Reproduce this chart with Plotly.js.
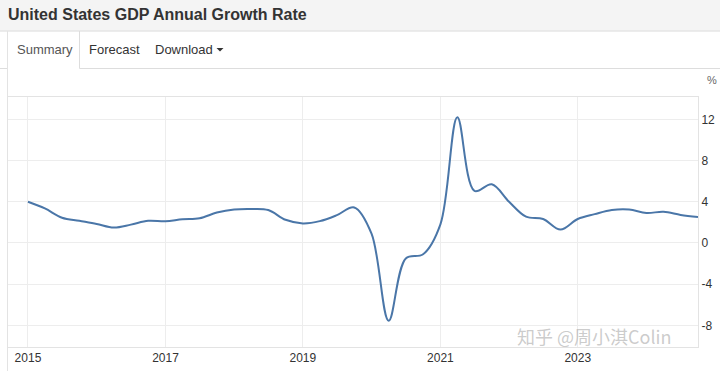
<!DOCTYPE html>
<html>
<head>
<meta charset="utf-8">
<script src="https://cdn.plot.ly/plotly-3.0.1.min.js"></script>
<style>html,body{margin:0;padding:0;background:#fff;}#chart{width:720px;height:371px;}</style>
</head>
<body>
<div id="chart"></div>
<script>
// Quarterly dates (quarter start) and US GDP annual growth rate (%)
const quarters = [
  '2015-01-01','2015-04-01','2015-07-01','2015-10-01',
  '2016-01-01','2016-04-01','2016-07-01','2016-10-01',
  '2017-01-01','2017-04-01','2017-07-01','2017-10-01',
  '2018-01-01','2018-04-01','2018-07-01','2018-10-01',
  '2019-01-01','2019-04-01','2019-07-01','2019-10-01',
  '2020-01-01','2020-04-01','2020-07-01','2020-10-01',
  '2021-01-01','2021-04-01','2021-07-01','2021-10-01',
  '2022-01-01','2022-04-01','2022-07-01','2022-10-01',
  '2023-01-01','2023-04-01','2023-07-01','2023-10-01',
  '2024-01-01','2024-04-01','2024-07-01','2024-10-01'
];
const growth = [
  4.0, 3.35, 2.45, 2.15,
  1.85, 1.5, 1.78, 2.15,
  2.1, 2.3, 2.4, 2.95,
  3.25, 3.3, 3.2, 2.25,
  1.9, 2.12, 2.7, 3.45,
  0.9, -7.55, -1.5, -1.1,
  1.8, 12.2, 5.05, 5.7,
  4.0, 2.55, 2.33, 1.3,
  2.33, 2.8, 3.2, 3.25,
  2.92, 3.02, 2.72, 2.52
];
const yTicks = [-8, -4, 0, 4, 8, 12];
const xTickLabels = ['2015', '2017', '2019', '2021', '2023'];
const xTickVals = ['2015-01-01', '2017-01-01', '2019-01-01', '2021-01-01', '2023-01-01'];
const pageTitle = 'United States GDP Annual Growth Rate';
const tabs = ['Summary', 'Forecast', 'Download'];
const unitLabel = '%';
const watermark = '知乎 @周小淇Colin';

// pixel -> paper helpers
const L = 8, R = 698, T = 97, B = 347;
const px = x => (x - L) / (R - L);
const py = y => (B - y) / (B - T);

const font = 'Arial, "Liberation Sans", Helvetica, sans-serif';

const shapes = [
  {type:'rect', xref:'paper', yref:'paper', x0:px(0), x1:px(720), y0:py(0), y1:py(30.5), fillcolor:'#f4f4f4', line:{width:0}, layer:'below'},
  {type:'line', xref:'paper', yref:'paper', x0:px(0), x1:px(720), y0:py(31), y1:py(31), line:{color:'#d9d9d9', width:1}},
  {type:'line', xref:'paper', yref:'paper', x0:px(0), x1:px(7.5), y0:py(68.5), y1:py(68.5), line:{color:'#dddddd', width:1}},
  {type:'line', xref:'paper', yref:'paper', x0:px(79.5), x1:px(720), y0:py(68.5), y1:py(68.5), line:{color:'#dddddd', width:1}},
  {type:'line', xref:'paper', yref:'paper', x0:px(7.5), x1:px(7.5), y0:py(31), y1:py(371), line:{color:'#e3e3e3', width:1}},
  {type:'line', xref:'paper', yref:'paper', x0:px(79.5), x1:px(79.5), y0:py(31), y1:py(68.5), line:{color:'#dddddd', width:1}},
  {type:'path', xref:'paper', yref:'paper',
   path:`M ${px(216.5)} ${py(48)} L ${px(223.5)} ${py(48)} L ${px(220)} ${py(51.5)} Z`,
   fillcolor:'#333', line:{width:0}}
];

const annotations = [
  {text:'<b>'+pageTitle+'</b>', xref:'paper', yref:'paper', x:px(6), y:py(14.5), xanchor:'left', yanchor:'middle', showarrow:false, font:{family:font, size:16, color:'#333'}},
  {text:tabs[0], xref:'paper', yref:'paper', x:px(15), y:py(49.5), xanchor:'left', yanchor:'middle', showarrow:false, font:{family:font, size:13, color:'#555'}},
  {text:tabs[1], xref:'paper', yref:'paper', x:px(87), y:py(49.5), xanchor:'left', yanchor:'middle', showarrow:false, font:{family:font, size:13, color:'#333'}},
  {text:tabs[2], xref:'paper', yref:'paper', x:px(153), y:py(49.5), xanchor:'left', yanchor:'middle', showarrow:false, font:{family:font, size:13, color:'#333'}},
  {text:unitLabel, xref:'paper', yref:'paper', x:px(712), y:py(80.5), xanchor:'center', yanchor:'middle', showarrow:false, font:{family:font, size:11, color:'#666'}},
  {text:watermark, xref:'paper', yref:'paper', x:px(515), y:py(336), xanchor:'left', yanchor:'middle', showarrow:false, font:{family:'"Noto Sans CJK SC", sans-serif', size:18, color:'rgba(160,160,160,0.55)'}}
];

const trace = {
  x: quarters, y: growth, type:'scatter', mode:'lines',
  line:{color:'#4a76a8', width:2, shape:'spline', smoothing:1},
  hoverinfo:'x+y'
};

const layout = {
  width:720, height:371,
  margin:{l:L, r:720-R, t:T, b:371-B, pad:0},
  paper_bgcolor:'#ffffff', plot_bgcolor:'#ffffff',
  showlegend:false,
  xaxis:{
    type:'date', range:['2014-09-17','2024-10-01'],
    tickmode:'array', tickvals:xTickVals, ticktext:xTickLabels,
    showgrid:true, gridcolor:'#ededed', gridwidth:1,
    showline:true, linecolor:'#e3e3e3', linewidth:1, mirror:true,
    ticks:'', zeroline:false,
    tickfont:{family:font, size:12, color:'#333'}
  },
  yaxis:{
    side:'right', range:[-10.1, 14.17],
    tickmode:'array', tickvals:yTicks, ticktext:yTicks.map(String),
    showgrid:true, gridcolor:'#ededed', gridwidth:1,
    showline:true, linecolor:'#e3e3e3', linewidth:1, mirror:true,
    ticks:'', zeroline:false,
    tickfont:{family:font, size:12, color:'#333'}
  },
  shapes: shapes,
  annotations: annotations
};

Plotly.newPlot('chart', [trace], layout, {displayModeBar:false, staticPlot:true});
</script>
</body>
</html>
